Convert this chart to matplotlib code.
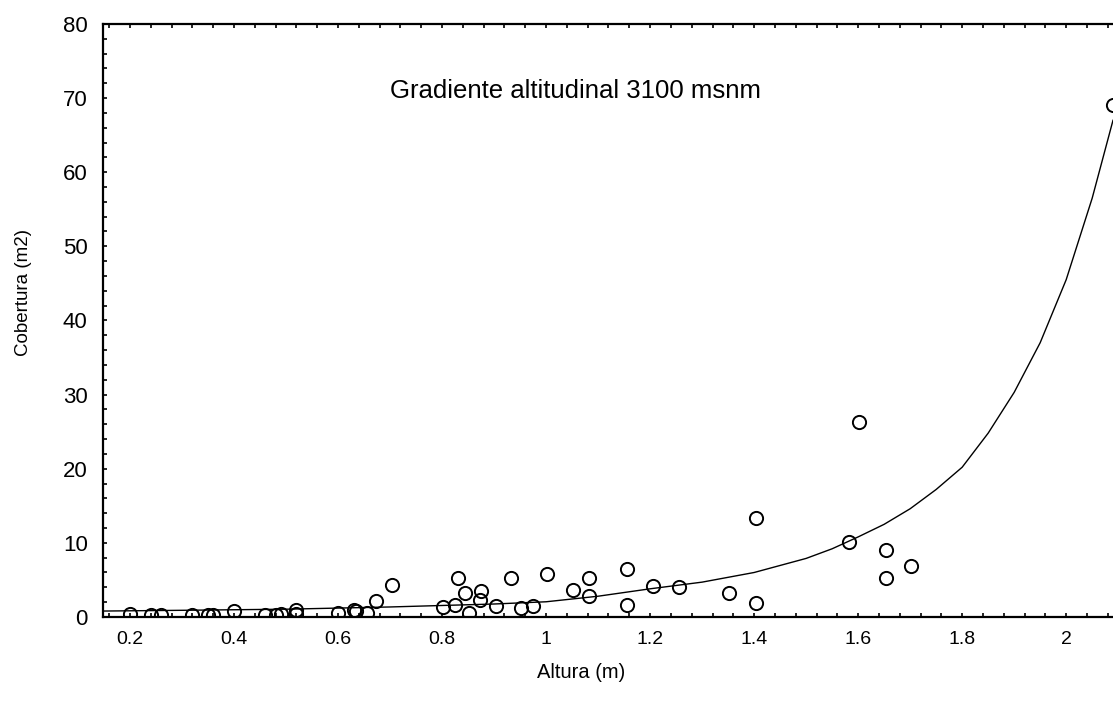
import matplotlib
matplotlib.use("Agg")
import matplotlib.pyplot as plt
from matplotlib.ticker import MultipleLocator, FormatStrFormatter

plt.rcParams['font.family'] = ['Liberation Sans', 'DejaVu Sans']

# observed points: altura (m) vs cobertura (m2)
altura = [0.20, 0.24, 0.26, 0.32, 0.35, 0.36, 0.40, 0.46, 0.48, 0.49, 0.52, 0.52,
          0.60, 0.63, 0.635, 0.655, 0.673, 0.704, 0.802, 0.825, 0.831, 0.844, 0.852,
          0.873, 0.875, 0.904, 0.933, 0.952, 0.975, 1.002, 1.052, 1.083, 1.083,
          1.156, 1.156, 1.206, 1.256, 1.352, 1.404, 1.404, 1.583, 1.602, 1.654,
          1.654, 1.702, 2.09]
cobertura = [0.4, 0.3, 0.2, 0.3, 0.3, 0.2, 0.8, 0.2, 0.3, 0.4, 0.9, 0.4,
             0.6, 0.9, 0.8, 0.5, 2.2, 4.3, 1.4, 1.6, 5.3, 3.2, 0.5,
             2.3, 3.5, 1.5, 5.3, 1.2, 1.5, 5.8, 3.6, 5.3, 2.8,
             6.5, 1.6, 4.2, 4.0, 3.2, 13.4, 1.9, 10.1, 26.3, 9.0,
             5.3, 6.9, 69.0]

# fitted curve
curva_x = [0.15, 0.3, 0.5, 0.7, 0.9, 1.0, 1.1, 1.2, 1.3, 1.4, 1.5, 1.55, 1.6,
           1.65, 1.7, 1.75, 1.8, 1.85, 1.9, 1.95, 2.0, 2.05, 2.09]
curva_y = [0.8, 0.9, 1.05, 1.35, 1.75, 2.05, 2.8, 3.8, 4.7, 6.0, 7.9, 9.2, 10.8,
           12.5, 14.6, 17.2, 20.2, 24.8, 30.3, 37.0, 45.5, 56.5, 67.0]

fig = plt.figure(figsize=(11.13, 7.06), dpi=100)
ax = fig.add_axes([0.0925, 0.1261, 0.9075, 0.84])

ax.plot(curva_x, curva_y, color='black', lw=1.0)
ax.plot(altura, cobertura, 'o', mfc='none', mec='black', ms=9.5, mew=1.4)

ax.set_xlim(0.148, 2.09)
ax.set_ylim(0, 80)
ax.xaxis.set_major_locator(MultipleLocator(0.2))
ax.xaxis.set_minor_locator(MultipleLocator(0.04))
ax.yaxis.set_major_locator(MultipleLocator(10))
ax.yaxis.set_minor_locator(MultipleLocator(2))
ax.xaxis.set_major_formatter(FormatStrFormatter('%g'))

ax.tick_params(which='both', direction='in', top=True, right=False,
               length=3, width=1.2)
ax.tick_params(axis='x', labelsize=14, pad=10)
ax.tick_params(axis='y', labelsize=16, pad=11)
ax.spines['right'].set_visible(False)
for s in ['left', 'bottom', 'top']:
    ax.spines[s].set_linewidth(1.6)

ax.text(0.70, 71, 'Gradiente altitudinal 3100 msnm', fontsize=18.5,
        ha='left', va='center')

fig.text(581 / 1113, 1 - 672 / 706, 'Altura (m)', fontsize=14.5,
         ha='center', va='center')
fig.text(24 / 1113, 1 - 292 / 706, 'Cobertura (m2)', fontsize=13.5,
         ha='center', va='center', rotation=90)

fig.savefig('out.png', dpi=100)
